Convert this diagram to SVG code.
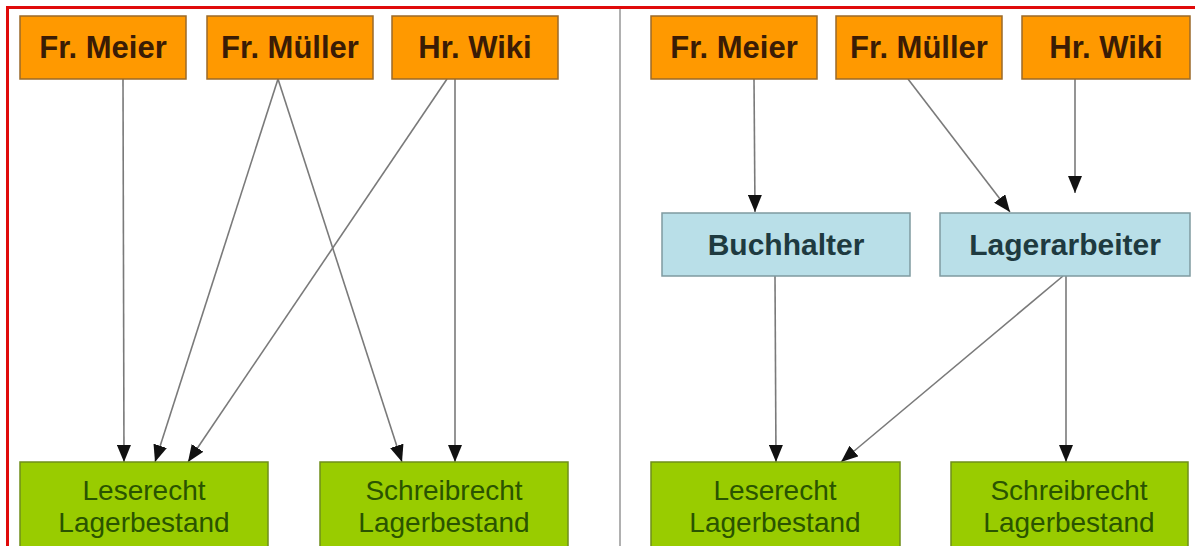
<svg xmlns="http://www.w3.org/2000/svg" width="1195" height="546" viewBox="0 0 1195 546">
<defs>
<style>
.p rect{fill:#ff9900;stroke:#9a6a2a;stroke-width:1.5}
.p text{font-family:"Liberation Sans",Arial,sans-serif;font-weight:bold;font-size:31px;fill:#3a1c05;text-anchor:middle}
.r rect{fill:#b9dfe8;stroke:#7f9aa0;stroke-width:1.5}
.r text{font-family:"Liberation Sans",Arial,sans-serif;font-weight:bold;font-size:30px;fill:#1e3a40;text-anchor:middle}
.g rect{fill:#99cc00;stroke:#6f8f1a;stroke-width:1.5}
.g text{font-family:"Liberation Sans",Arial,sans-serif;font-size:28px;fill:#2a5400;text-anchor:middle}
#connectors line{stroke:#7a7a7a;stroke-width:1.6;fill:none;marker-end:url(#ah)}
</style>
<marker id="ah" markerUnits="userSpaceOnUse" markerWidth="18" markerHeight="14" refX="17" refY="7" orient="auto">
<path d="M0,0 L17,7 L0,14 z" fill="#111"/>
</marker>
</defs>
<rect x="0" y="0" width="1195" height="546" fill="#ffffff"/>
<rect x="7.5" y="7.5" width="1200" height="560" fill="none" stroke="#e00a0a" stroke-width="3"/>
<line x1="620" y1="9" x2="620" y2="546" stroke="#b0b0b0" stroke-width="2"/>

<g id="connectors">
<line x1="123" y1="79" x2="124" y2="462"/>
<line x1="278" y1="79" x2="155" y2="462"/>
<line x1="278" y1="79" x2="402" y2="462"/>
<line x1="447" y1="79" x2="188" y2="462"/>
<line x1="455" y1="79" x2="455" y2="462"/>
<line x1="754" y1="79" x2="755" y2="212"/>
<line x1="908" y1="79" x2="1010" y2="212"/>
<line x1="1075" y1="79" x2="1075" y2="193"/>
<line x1="775" y1="276" x2="776" y2="462"/>
<line x1="1063" y1="276" x2="841" y2="462"/>
<line x1="1066" y1="276" x2="1066" y2="462"/>
</g>

<g id="l-meier" class="p"><rect x="20" y="16" width="166" height="63"/><text x="103" y="58">Fr. Meier</text></g>
<g id="l-mueller" class="p"><rect x="207" y="16" width="166" height="63"/><text x="290" y="58">Fr. Müller</text></g>
<g id="l-wiki" class="p"><rect x="392" y="16" width="166" height="63"/><text x="475" y="58">Hr. Wiki</text></g>
<g id="r-meier" class="p"><rect x="651" y="16" width="166" height="63"/><text x="734" y="58">Fr. Meier</text></g>
<g id="r-mueller" class="p"><rect x="836" y="16" width="166" height="63"/><text x="919" y="58">Fr. Müller</text></g>
<g id="r-wiki" class="p"><rect x="1022" y="16" width="168" height="63"/><text x="1106" y="58">Hr. Wiki</text></g>

<g id="buchhalter" class="r"><rect x="662" y="213" width="248" height="63"/><text x="786" y="255">Buchhalter</text></g>
<g id="lagerarbeiter" class="r"><rect x="940" y="213" width="250" height="63"/><text x="1065" y="255">Lagerarbeiter</text></g>

<g id="l-lese" class="g"><rect x="20" y="462" width="248" height="100"/><text x="144" y="500">Leserecht</text><text x="144" y="532">Lagerbestand</text></g>
<g id="l-schreib" class="g"><rect x="320" y="462" width="248" height="100"/><text x="444" y="500">Schreibrecht</text><text x="444" y="532">Lagerbestand</text></g>
<g id="r-lese" class="g"><rect x="651" y="462" width="249" height="100"/><text x="775" y="500">Leserecht</text><text x="775" y="532">Lagerbestand</text></g>
<g id="r-schreib" class="g"><rect x="951" y="462" width="237" height="100"/><text x="1069" y="500">Schreibrecht</text><text x="1069" y="532">Lagerbestand</text></g>
</svg>
